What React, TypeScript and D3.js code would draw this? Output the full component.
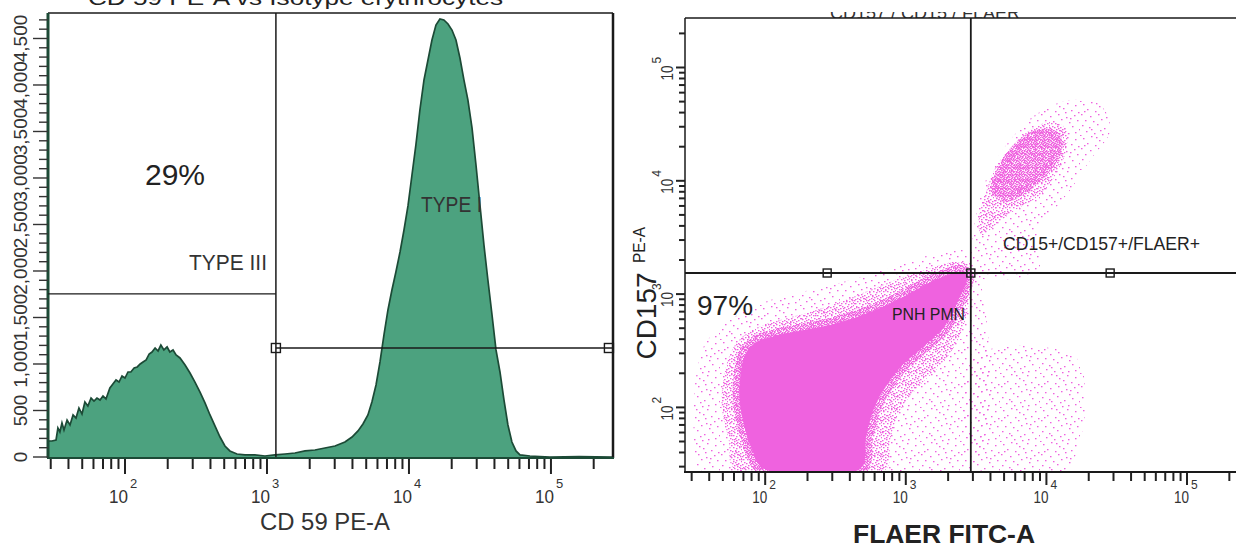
import React from "react";
import * as d3 from "d3";

// ---------------- Left panel: CD59 histogram (RBC) ----------------
const histCD59 = [
  28.7, 30.6, 32.7, 33.7, 34.8, 36.0, 37.2, 39.1, 41.0, 43.1, 45.2, 47.4, 49.8, 52.2, 54.8, 57.7,
  60.5, 63.5, 66.7, 70.0, 73.5, 78.3, 82.2, 86.5, 90.8, 95.3, 100, 105, 110, 116, 122, 128, 134,
  141, 148, 155, 163, 171, 179, 188, 198, 207, 218, 229, 244, 265, 287, 311, 337, 366, 397, 431,
  467, 506, 548, 615, 700, 822, 968, 1138, 1340, 1574, 1854, 2178, 2559, 3013, 3540, 3972, 4375,
  4742, 5140, 5483, 5861, 6252, 6668, 7112, 7586, 8091, 8650, 9226, 9840, 10500, 11190, 11940,
  12760, 13610, 14520, 15490, 16520, 17620, 18840, 20090, 21430, 22860, 24380, 26000, 27800,
  29650, 31620, 33730, 35970, 38460, 41020, 43750, 46670, 49770, 53090, 56750, 60530, 71120,
  98400, 158000, 273500,
];
const histCount = [
  172, 172, 183, 312, 269, 366, 290, 398, 344, 452, 419, 527, 462, 591, 548, 634,
  602, 634, 613, 656, 624, 742, 785, 828, 806, 871, 849, 914, 914, 957, 968, 1000, 1022,
  1043, 1108, 1129, 1172, 1140, 1204, 1151, 1183, 1129, 1151, 1097, 1065, 989, 903, 806, 699, 581, 452, 333,
  215, 118, 65, 32, 22, 22, 11, 22, 32, 43, 65, 75, 97, 118, 161, 215, 280,
  355, 452, 591, 774, 1022, 1312, 1581, 1796, 1989, 2204, 2441, 2699, 3032, 3355, 3731,
  4054, 4269, 4484, 4645, 4710, 4699, 4656, 4591, 4484, 4290, 4054, 3839, 3538,
  3140, 2710, 2280, 1903, 1527, 1151, 914, 613, 344, 161, 65, 22, 11,
  0, 3, 0,
];
const cd59Gate = 1156;
const typeIIIGateCount = 1753;
const typeIGateCount = 1172;
const cd59GateEnd = 256000;
const histYLabelValues = [0, 500, 1000, 1500, 2000, 2500, 3000, 3500, 4000, 4500];
const histYLabels = ["0", "500", "1,000", "1,500", "2,000", "2,500", "3,000", "3,500", "4,000", "4,500"];

// ---------------- Right panel: FLAER vs CD157 (PMN) ----------------
const decadeTicks = [100, 1000, 10000, 100000];
const decadeExps = ["2", "3", "4", "5"];

type P = [number, number];
// [FLAER, CD157] outlines of the event-density regions
const pnhHalo: P[] = [[35, 28], [31, 63], [32, 175], [37, 356], [56, 590], [109, 887], [209, 1087], [403, 1333], [774, 1700], [1493, 2213], [2438, 2449], [2871, 2449], [2871, 28]];
const pnhMid: P[] = [[61, 28], [55, 52], [49, 105], [52, 214], [61, 356], [81, 482], [128, 590], [209, 695], [341, 851], [558, 1087], [912, 1388], [1493, 1700], [2244, 1919], [2780, 1807], [2871, 1087], [2518, 482], [1906, 262], [1265, 158], [912, 95], [774, 52], [713, 28]];
const pnhCore: P[] = [[97, 29], [81, 42], [71, 70], [66, 116], [67, 193], [72, 290], [85, 370], [118, 427], [177, 472], [290, 533], [474, 641], [713, 785], [991, 962], [1374, 1203], [1906, 1444], [2438, 1567], [2735, 1444], [2360, 887], [1906, 533], [1374, 356], [991, 252], [750, 167], [605, 105], [523, 57], [474, 29]];
const normalHalo: P[] = [[2965, 1475], [2965, 3000], [3273, 6124], [3981, 12450], [5530, 22910], [8318, 38020], [14760, 51640], [24150, 46670], [28430, 28050], [20510, 15280], [14760, 8299], [10640, 4990], [8318, 3000], [9036, 1632]];
const normalMid: P[] = [[3273, 4328], [3673, 7499], [4325, 12980], [5530, 19480], [7674, 28050], [10640, 32960], [13610, 29240], [13830, 18700], [11560, 11240], [9036, 7499], [5998, 5525], [4325, 4071], [3491, 3325]];
const normalCore: P[] = [[4325, 8299], [4689, 11970], [5530, 16900], [7063, 22910], [9036, 26420], [11560, 25360], [12130, 19480], [10640, 13800], [8318, 10160], [6516, 7962], [5093, 7047]];
const flaerPosLow: P[] = [[3118, 279], [16030, 279], [18880, 116], [17380, 52], [13610, 28], [3381, 28]];

const flaerGate = 2900;
const cd157Gate = 1535;
const cd157GateMarks = [276, 2900, 28400];

const PINK = "#ef62df";
const GREEN = "#4ca27f";
const GREEN_DARK = "#1c4a36";
const INK = "#1a1a1a";

// speckle textures (styling of the density regions)
const sparseDots: P[] = [[3, 2], [11, 0], [19, 4], [27, 1], [35, 3], [7, 7], [15, 9], [23, 6], [31, 8], [38, 10], [1, 12], [10, 14], [18, 12], [26, 15], [34, 13], [5, 18], [13, 19], [21, 17], [29, 20], [37, 18], [2, 23], [9, 25], [17, 22], [24, 26], [32, 24], [39, 27], [6, 29], [14, 31], [20, 28], [28, 31], [35, 30], [0, 33], [11, 27], [25, 10], [16, 1], [30, 16], [4, 9], [22, 32]];
const midDots: P[] = [[0, 0], [3, 1], [6, 0], [9, 1], [12, 0], [1, 3], [5, 3], [8, 4], [11, 3], [13, 5], [2, 6], [4, 7], [7, 6], [10, 7], [0, 8], [6, 9], [9, 10], [12, 9], [3, 10], [1, 11], [5, 11], [11, 11], [13, 2], [8, 8]];
const denseDots: P[] = [[0, 0], [2, 0], [5, 0], [7, 1], [1, 2], [3, 1], [4, 2], [6, 3], [0, 4], [2, 4], [5, 4], [7, 5], [1, 6], [3, 5], [4, 6], [6, 6], [3, 3], [0, 6]];

export default function App() {
  const xL = d3.scaleLog().domain([28.7, 273500]).range([48, 613]);
  const yL = d3.scaleLinear().domain([0, 4774]).range([457, 13]);
  const xR = d3.scaleLog().domain([26.9, 223000]).range([685, 1236]);
  const yR = d3.scaleLog().domain([26.9, 273500]).range([472, 18]);

  const histData = histCD59.map((v, i) => ({ v, c: histCount[i] }));
  const area = d3
    .area<{ v: number; c: number }>()
    .x((d) => xL(d.v))
    .y0(yL(0))
    .y1((d) => yL(d.c));
  const line = d3
    .line<{ v: number; c: number }>()
    .x((d) => xL(d.v))
    .y((d) => yL(d.c));

  const blob = d3
    .line<P>()
    .x((d) => xR(d[0]))
    .y((d) => yR(d[1]))
    .curve(d3.curveCatmullRomClosed.alpha(0.5));

  const isDecade = (v: number) => Math.abs(Math.log10(v) - Math.round(Math.log10(v))) < 1e-6;
  const xLTicks = xL.ticks();
  const xRTicks = xR.ticks();
  const yRTicks = yR.ticks();
  const yLTicks = d3.range(0, 4701, 100);

  const font = "'Liberation Sans', Arial, sans-serif";
  const sq = 9;

  const pattern = (id: string, w: number, h: number, dots: P[]) => (
    <pattern id={id} width={w} height={h} patternUnits="userSpaceOnUse">
      {dots.map((d, i) => (
        <rect key={i} x={d[0]} y={d[1]} width={1.5} height={1.3} fill={PINK} />
      ))}
    </pattern>
  );

  return (
    <svg
      width={1236}
      height={548}
      style={{ position: "absolute", left: 0, top: 0, background: "#fff" }}
      fontFamily={font}
    >
      <defs>
        <clipPath id="clipL">
          <rect x={48} y={13} width={565} height={444} />
        </clipPath>
        <clipPath id="clipR">
          <rect x={686} y={19} width={550} height={452} />
        </clipPath>
        <clipPath id="clipTopR">
          <rect x={800} y={12} width={260} height={6} />
        </clipPath>
        {pattern("sparse", 40, 34, sparseDots)}
        {pattern("mid", 14, 12, midDots)}
        {pattern("dense", 8, 7, denseDots)}
      </defs>
      <rect x={0} y={0} width={1236} height={548} fill="#fff" />

      {/* ================= LEFT PANEL ================= */}
      <text x={88} y={5} fontSize={20} fill="#222" textLength={415} lengthAdjust="spacingAndGlyphs">
        CD 59 PE-A vs Isotype erythrocytes
      </text>
      <g clipPath="url(#clipL)">
        <path d={area(histData) ?? ""} fill={GREEN} />
        <path d={line(histData) ?? ""} fill="none" stroke={GREEN_DARK} strokeWidth={1.7} />
      </g>
      {/* frame */}
      <line x1={48} x2={613} y1={13} y2={13} stroke={INK} strokeWidth={1.5} />
      <line x1={48} x2={48} y1={13} y2={458} stroke={GREEN_DARK} strokeWidth={3} />
      <line x1={613} x2={613} y1={13} y2={458} stroke={INK} strokeWidth={2.5} />
      <line x1={47} x2={614} y1={458} y2={458} stroke={GREEN_DARK} strokeWidth={2} />
      {/* gates */}
      <line x1={xL(cd59Gate)} x2={xL(cd59Gate)} y1={13} y2={457} stroke={INK} strokeWidth={1.5} />
      <line x1={48} x2={xL(cd59Gate)} y1={yL(typeIIIGateCount)} y2={yL(typeIIIGateCount)} stroke={INK} strokeWidth={1.3} />
      <line x1={xL(cd59Gate)} x2={613} y1={yL(typeIGateCount)} y2={yL(typeIGateCount)} stroke={INK} strokeWidth={1.6} />
      {[cd59Gate, cd59GateEnd].map((v, i) => (
        <rect key={i} x={xL(v) - sq / 2} y={yL(typeIGateCount) - sq / 2} width={sq} height={sq} fill="none" stroke={INK} strokeWidth={1.4} />
      ))}
      {/* y ticks */}
      {yLTicks.map((t) => (
        <line key={t} x1={t % 500 === 0 ? 33 : 39} x2={48} y1={yL(t)} y2={yL(t)} stroke="#333" strokeWidth={1.4} />
      ))}
      {histYLabelValues.map((v, i) => (
        <text
          key={v}
          transform={`translate(27,${yL(v)}) rotate(-90)`}
          textAnchor="middle"
          fontSize={19}
          fill="#333"
        >
          {histYLabels[i]}
        </text>
      ))}
      {/* x ticks */}
      {xLTicks.map((t, i) => (
        <line key={i} x1={xL(t)} x2={xL(t)} y1={459} y2={isDecade(t) ? 474 : 469} stroke="#222" strokeWidth={2} />
      ))}
      {decadeTicks.map((t, i) => (
        <g key={t}>
          <text x={xL(t) + 3} y={503} textAnchor="end" fontSize={18} fill="#333" textLength={19} lengthAdjust="spacingAndGlyphs">
            10
          </text>
          <text x={xL(t) + 5} y={488} fontSize={13} fill="#333">
            {decadeExps[i]}
          </text>
        </g>
      ))}
      <text x={325} y={530} textAnchor="middle" fontSize={24} fill="#333" textLength={130} lengthAdjust="spacingAndGlyphs">
        CD 59 PE-A
      </text>
      <text x={145} y={185} fontSize={30} fill="#222">29%</text>
      <text x={189} y={270} fontSize={22} fill="#333" textLength={78} lengthAdjust="spacingAndGlyphs">TYPE III</text>
      <text x={421} y={212} fontSize={22} fill="#333" textLength={61} lengthAdjust="spacingAndGlyphs">TYPE I</text>

      {/* ================= RIGHT PANEL ================= */}
      <g clipPath="url(#clipTopR)">
        <text x={830} y={19} fontSize={18} fill="#333" textLength={190} lengthAdjust="spacingAndGlyphs">
          CD157 / CD15 / FLAER
        </text>
      </g>
      <g clipPath="url(#clipR)">
        {[pnhHalo, normalHalo, flaerPosLow].map((p, i) => (
          <path key={"h" + i} d={blob(p) ?? ""} fill="url(#sparse)" />
        ))}
        {[pnhMid, normalMid].map((p, i) => (
          <path key={"m" + i} d={blob(p) ?? ""} fill="url(#mid)" />
        ))}
        <path d={blob(pnhCore) ?? ""} fill={PINK} stroke="url(#dense)" strokeWidth={14} strokeLinejoin="round" />
        <path d={blob(pnhCore) ?? ""} fill={PINK} />
        <path d={blob(normalCore) ?? ""} fill="url(#dense)" stroke="url(#dense)" strokeWidth={8} />
      </g>
      {/* frame */}
      <line x1={685} x2={1236} y1={18} y2={18} stroke={INK} strokeWidth={1.5} />
      <line x1={685} x2={685} y1={18} y2={473} stroke={INK} strokeWidth={1.5} />
      <line x1={684} x2={1236} y1={472} y2={472} stroke={INK} strokeWidth={2} />
      {/* gates */}
      <line x1={xR(flaerGate)} x2={xR(flaerGate)} y1={18} y2={472} stroke={INK} strokeWidth={1.8} />
      <line x1={685} x2={1236} y1={yR(cd157Gate)} y2={yR(cd157Gate)} stroke={INK} strokeWidth={1.8} />
      {cd157GateMarks.map((v, i) => (
        <rect key={i} x={xR(v) - 4} y={yR(cd157Gate) - 4} width={8} height={8} fill="none" stroke={INK} strokeWidth={1.4} />
      ))}
      {/* y ticks */}
      {yRTicks.map((t, i) => (
        <line key={i} x1={isDecade(t) ? 676 : 679} x2={685} y1={yR(t)} y2={yR(t)} stroke="#222" strokeWidth={2} />
      ))}
      {decadeTicks.map((t, i) => (
        <g key={t} transform={`translate(673,${yR(t)}) rotate(-90)`}>
          <text x={2} y={0} textAnchor="end" fontSize={17} fill="#333" textLength={15} lengthAdjust="spacingAndGlyphs">
            10
          </text>
          <text x={4} y={-12} fontSize={12} fill="#333">
            {decadeExps[i]}
          </text>
        </g>
      ))}
      {/* x ticks */}
      {xRTicks.map((t, i) => (
        <line key={i} x1={xR(t)} x2={xR(t)} y1={473} y2={isDecade(t) ? 485 : 481} stroke="#222" strokeWidth={2} />
      ))}
      {decadeTicks.map((t, i) => (
        <g key={t}>
          <text x={xR(t) + 2} y={503} textAnchor="end" fontSize={17} fill="#333" textLength={15} lengthAdjust="spacingAndGlyphs">
            10
          </text>
          <text x={xR(t) + 4} y={489} fontSize={12} fill="#333">
            {decadeExps[i]}
          </text>
        </g>
      ))}
      <text x={944} y={543} textAnchor="middle" fontSize={26} fontWeight="bold" fill="#222" textLength={182} lengthAdjust="spacingAndGlyphs">
        FLAER FITC-A
      </text>
      <text transform="translate(656,316) rotate(-90)" textAnchor="middle" fontSize={28} fill="#222" textLength={87} lengthAdjust="spacingAndGlyphs">
        CD157
      </text>
      <text transform="translate(645,245) rotate(-90)" textAnchor="middle" fontSize={17} fill="#222" textLength={36} lengthAdjust="spacingAndGlyphs">
        PE-A
      </text>
      <text x={697} y={315} fontSize={28} fill="#222">97%</text>
      <text x={892} y={320} fontSize={16} fill="#222" textLength={73} lengthAdjust="spacingAndGlyphs">PNH PMN</text>
      <text x={1003} y={250} fontSize={19} fill="#222" textLength={197} lengthAdjust="spacingAndGlyphs">CD15+/CD157+/FLAER+</text>
    </svg>
  );
}
